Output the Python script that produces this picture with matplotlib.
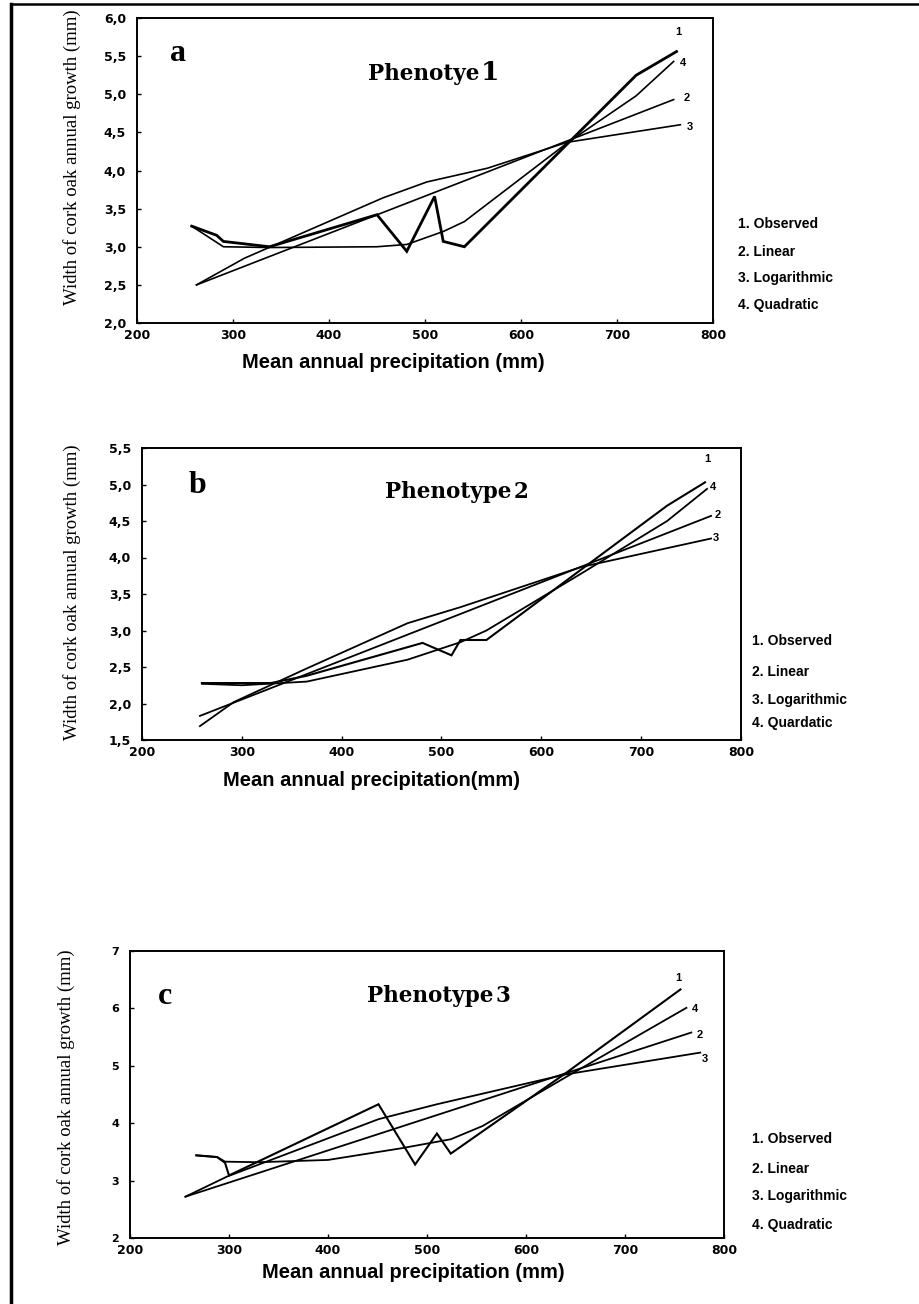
import matplotlib
matplotlib.use("Agg")
import matplotlib.pyplot as plt
from matplotlib.ticker import FuncFormatter, FixedLocator
from matplotlib.lines import Line2D

# ---------------- data ----------------
# Panel a: Phenotye1
a_obs_x = [257, 283, 290, 338, 450, 481, 510, 519, 541, 720, 762]
a_obs_y = [3.27, 3.15, 3.07, 3.00, 3.42, 2.94, 3.66, 3.07, 3.00, 5.25, 5.56]
a_lin_x = [262, 759]
a_lin_y = [2.50, 4.93]
a_log_x = [262, 312, 456, 502, 565, 648, 766]
a_log_y = [2.50, 2.85, 3.64, 3.85, 4.03, 4.37, 4.60]
a_quad_x = [257, 290, 338, 450, 481, 519, 541, 648, 720, 759]
a_quad_y = [3.27, 3.00, 2.99, 3.00, 3.03, 3.20, 3.33, 4.36, 4.98, 5.43]

# Panel b: Phenotype2
b_obs_x = [260, 329, 365, 481, 510, 519, 545, 726, 764]
b_obs_y = [2.28, 2.28, 2.38, 2.83, 2.66, 2.87, 2.87, 4.71, 5.03]
b_lin_x = [258, 770]
b_lin_y = [1.83, 4.57]
b_log_x = [258, 292, 365, 466, 519, 640, 770]
b_log_y = [1.69, 2.02, 2.48, 3.10, 3.32, 3.87, 4.26]
b_quad_x = [260, 300, 365, 466, 519, 545, 640, 726, 766]
b_quad_y = [2.27, 2.25, 2.30, 2.60, 2.84, 3.00, 3.78, 4.50, 4.94]

# Panel c: Phenotype3
c_obs_x = [267, 288, 296, 300, 451, 488, 510, 524, 640, 756]
c_obs_y = [3.44, 3.41, 3.31, 3.09, 4.33, 3.28, 3.82, 3.47, 4.87, 6.33]
c_lin_x = [256, 767]
c_lin_y = [2.72, 5.58]
c_log_x = [256, 298, 451, 510, 640, 776]
c_log_y = [2.72, 3.07, 4.07, 4.33, 4.85, 5.23]
c_quad_x = [267, 288, 296, 330, 400, 451, 473, 524, 556, 640, 762]
c_quad_y = [3.44, 3.41, 3.33, 3.32, 3.36, 3.50, 3.56, 3.72, 3.95, 4.80, 6.01]

x_ticks = [200, 300, 400, 500, 600, 700, 800]
a_yticks = [2.0, 2.5, 3.0, 3.5, 4.0, 4.5, 5.0, 5.5, 6.0]
b_yticks = [1.5, 2.0, 2.5, 3.0, 3.5, 4.0, 4.5, 5.0, 5.5]
c_yticks = [2, 3, 4, 5, 6, 7]

titles = [("Phenotye", "1"), ("Phenotype", "2"), ("Phenotype", "3")]
letters = ["a", "b", "c"]
xlabels = ["Mean annual precipitation (mm)", "Mean annual precipitation(mm)",
           "Mean annual precipitation (mm)"]
ylabel = "Width of cork oak annual growth (mm)"
legend_a = ["1. Observed", "2. Linear", "3. Logarithmic", "4. Quadratic"]
legend_b = ["1. Observed", "2. Linear", "3. Logarithmic", "4. Quardatic"]
legend_c = ["1. Observed", "2. Linear", "3. Logarithmic", "4. Quadratic"]
curve_ids = ["1", "4", "2", "3"]

# ---------------- figure ----------------
W, H = 920, 1304
fig = plt.figure(figsize=(W / 100, H / 100), dpi=100)
fig.patch.set_facecolor("white")

SANS = ["Liberation Sans", "DejaVu Sans"]
TICKF = ["DejaVu Sans"]
SERIF = ["Liberation Serif", "DejaVu Serif"]
TSERIF = ["DejaVu Serif"]


def fx(px):
    return px / W


def fy(py):
    return 1 - py / H


def rect(l, t, r, b):
    return [fx(l), fy(b), fx(r) - fx(l), fy(t) - fy(b)]


panels = [
    dict(pos=rect(137, 18, 713, 323), ylim=(2.0, 6.0), yticks=a_yticks, dec=True,
         series=[(a_obs_x, a_obs_y, 2.0), (a_lin_x, a_lin_y, 1.2),
                 (a_log_x, a_log_y, 1.2), (a_quad_x, a_quad_y, 1.2)],
         letter_xy=(0.071, 0.885), title_px=(368, 80), big1=True,
         ylab_c=(72, 157), xlab_c=(393, 362), legend=legend_a,
         legend_px=(738, [224, 252, 278, 305]),
         ids_px=[(678, 32), (683, 63), (687, 98), (690, 127)]),
    dict(pos=rect(142, 448, 741, 740), ylim=(1.5, 5.5), yticks=b_yticks, dec=True,
         series=[(b_obs_x, b_obs_y, 1.5), (b_lin_x, b_lin_y, 1.3),
                 (b_log_x, b_log_y, 1.3), (b_quad_x, b_quad_y, 1.3)],
         letter_xy=(0.092, 0.87), title_px=(385, 498), big1=False,
         ylab_c=(72, 592), xlab_c=(372, 780), legend=legend_b,
         legend_px=(752, [641, 672, 700, 723]),
         ids_px=[(707, 459), (713, 487), (718, 515), (716, 538)]),
    dict(pos=rect(130, 951, 724, 1238), ylim=(2, 7), yticks=c_yticks, dec=False,
         series=[(c_obs_x, c_obs_y, 1.5), (c_lin_x, c_lin_y, 1.3),
                 (c_log_x, c_log_y, 1.3), (c_quad_x, c_quad_y, 1.3)],
         letter_xy=(0.059, 0.84), title_px=(367, 1002), big1=False,
         ylab_c=(66, 1097), xlab_c=(413, 1272), legend=legend_c,
         legend_px=(752, [1139, 1169, 1196, 1225]),
         ids_px=[(678, 978), (695, 1009), (700, 1035), (705, 1059)]),
]

for i, p in enumerate(panels):
    ax = fig.add_axes(p["pos"])
    for xs, ys, lw in p["series"]:
        ax.plot(xs, ys, color="black", lw=lw, solid_joinstyle="miter")
    ax.set_xlim(200, 800)
    ax.set_ylim(*p["ylim"])
    ax.xaxis.set_major_locator(FixedLocator(x_ticks))
    ax.yaxis.set_major_locator(FixedLocator(p["yticks"]))
    if p["dec"]:
        ax.yaxis.set_major_formatter(FuncFormatter(lambda v, _: f"{v:.1f}".replace(".", ",")))
    else:
        ax.yaxis.set_major_formatter(FuncFormatter(lambda v, _: f"{int(round(v))}"))
    ax.tick_params(direction="in", length=3, width=1)
    ax.tick_params(axis="x", pad=4)
    ax.tick_params(axis="y", pad=8)
    for lab in ax.get_xticklabels():
        lab.set_family(TICKF)
        lab.set_fontweight("bold")
        lab.set_fontsize(9)
    for lab in ax.get_yticklabels():
        lab.set_family(TICKF)
        lab.set_fontweight("bold")
        lab.set_fontsize(9 if p["dec"] else 8)
    for s in ax.spines.values():
        s.set_linewidth(1.4)
        s.set_color("black")

    # panel letter and title
    ax.text(*p["letter_xy"], letters[i], transform=ax.transAxes, ha="center", va="center",
            family=SERIF, fontweight="bold", fontsize=23)
    t1 = fig.text(fx(p["title_px"][0]), fy(p["title_px"][1]), titles[i][0],
                  ha="left", va="baseline", family=TSERIF, fontweight="bold", fontsize=15.5)
    fig.canvas.draw()
    bb = t1.get_window_extent()
    fig.text(bb.x1 / W + 0.002, fy(p["title_px"][1]), titles[i][1], ha="left", va="baseline",
             family=TSERIF, fontweight="bold", fontsize=19 if p["big1"] else 15.5)

    # axis labels
    fig.text(fx(p["ylab_c"][0]), fy(p["ylab_c"][1]), ylabel, rotation=90,
             ha="center", va="center", family=SERIF, fontsize=13.5)
    fig.text(fx(p["xlab_c"][0]), fy(p["xlab_c"][1]), xlabels[i], ha="center", va="center",
             family=SANS, fontweight="bold", fontsize=14.5)

    # legend text at right
    lx, lys = p["legend_px"]
    for txt, ly in zip(p["legend"], lys):
        fig.text(fx(lx), fy(ly), txt, ha="left", va="center", family=SANS,
                 fontweight="bold", fontsize=10)

    # curve id labels
    for cid, (cx, cy) in zip(curve_ids, p["ids_px"]):
        fig.text(fx(cx), fy(cy), cid, ha="center", va="center", family=SANS,
                 fontweight="bold", fontsize=8)

# page border lines (top and left)
fig.add_artist(Line2D([fx(11), fx(11)], [fy(4), fy(1304)], color="black", lw=2.5))
fig.add_artist(Line2D([fx(11), fx(920)], [fy(4), fy(4)], color="black", lw=1.8))

fig.savefig("out.png", dpi=100, facecolor="white")
